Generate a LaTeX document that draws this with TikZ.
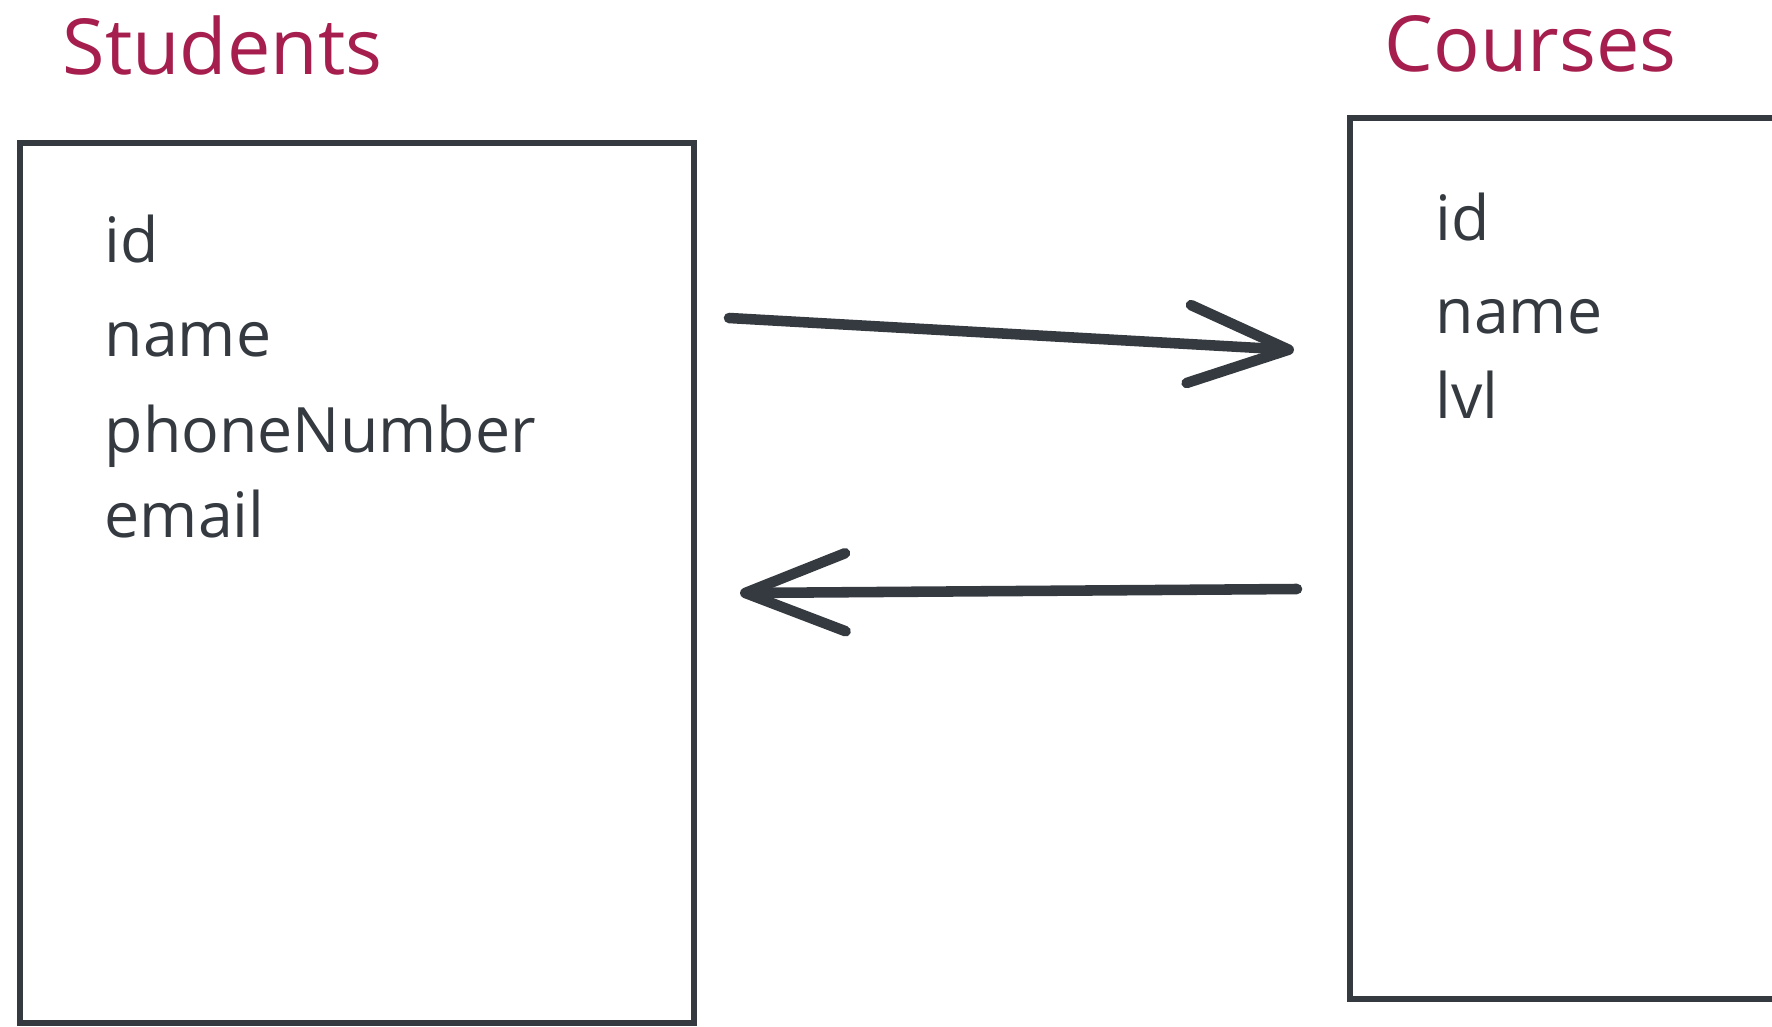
\documentclass[tikz,border=0pt]{standalone}
\usepackage{fontspec}
\setmainfont{Open Sans}
\usetikzlibrary{arrows.meta}
\definecolor{ink}{HTML}{343A40}
\definecolor{titlec}{HTML}{A61E4D}
\tikzset{
  tbl/.style={draw=ink, line width=1.8pt, rectangle, inner sep=0pt},
  ttl/.style={text=titlec, font=\fontsize{22}{26}\selectfont, anchor=base west, inner sep=0pt},
  fld/.style={text=ink, font=\fontsize{17.8}{22}\selectfont, anchor=base west, inner sep=0pt},
  rel/.style={draw=ink, line width=3pt, line cap=round, line join=round,
    -{Straight Barb[length=1.0cm, width=0.78cm, line width=3pt, round]}}
}
\begin{document}
\begin{tikzpicture}[x=0.01cm, y=-0.01cm]
\useasboundingbox (0,0) rectangle (1772,1027);
\clip (0,0) rectangle (1772,1027);
% tables
\node[tbl, minimum width=6.74cm, minimum height=8.80cm] (stud) at (357,583) {};
\node[tbl, minimum width=5.0cm, minimum height=8.81cm] (cour) at (1600,558.5) {};
% titles
\node[ttl] (studT) at (62,74) {Students};
\node[ttl] (courT) at (1384,71) {Courses};
% fields
\node[fld] (s1) at (104,262) {id};
\node[fld] (s2) at (104,356) {name};
\node[fld] (s3) at (104,452) {phoneNumber};
\node[fld] (s4) at (104,537) {email};
\node[fld] (c1) at (1435,240) {id};
\node[fld] (c2) at (1435,333) {name};
\node[fld] (c3) at (1435,418) {lvl};
% connector ends
\coordinate (a1s) at (729,318);
\coordinate (a1e) at (1294,350);
\coordinate (a2s) at (1297,589);
\coordinate (a2e) at (740,593);
\draw[rel] (a1s) -- (a1e);
\draw[rel] (a2s) -- (a2e);
\end{tikzpicture}
\end{document}
